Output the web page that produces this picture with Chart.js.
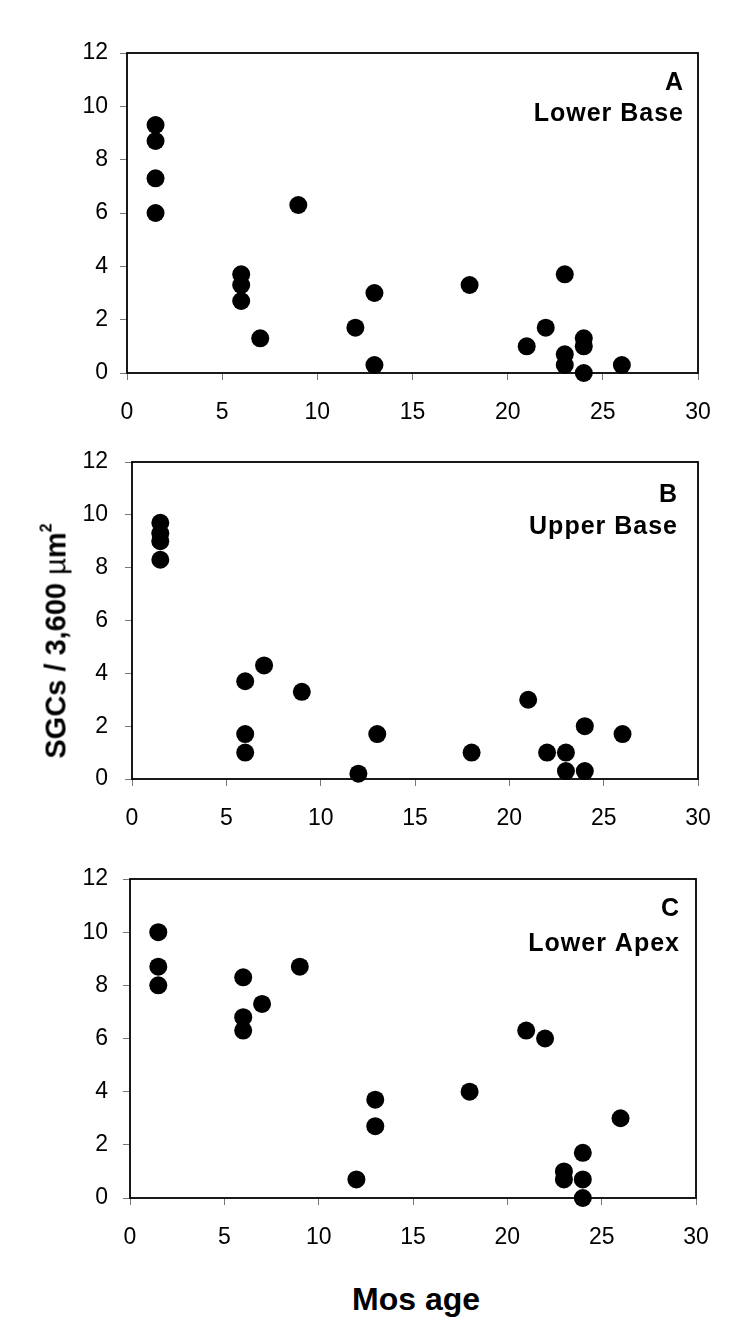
<!DOCTYPE html>
<html>
<head>
<meta charset="utf-8">
<script src="https://cdn.jsdelivr.net/npm/chart.js@4/dist/chart.umd.min.js"></script>
<style>
  body { margin: 0; background: #fff; width: 750px; height: 1337px; position: relative; overflow: hidden;
         font-family: "Liberation Sans", Arial, sans-serif; }
  .panel { position: absolute; left: 0; width: 750px; }
  #yTitle { position: absolute; left: 56px; top: 641px; transform: translate(-50%, -50%) rotate(-90deg);
            white-space: nowrap; font-weight: bold; font-size: 29px; line-height: 33px; color: #000; }
  #yTitle .mu { font-weight: normal; }
  #yTitle sup { font-size: 16px; line-height: 0; vertical-align: 0; position: relative; top: -0.85em; }
  #xTitle { position: absolute; left: 416px; top: 1299px; transform: translate(-50%, -50%);
            white-space: nowrap; font-weight: bold; font-size: 32px; color: #000; }
</style>
</head>
<body>
<div class="panel" style="top:0;height:425px"><canvas id="chartA"></canvas></div>
<div class="panel" style="top:425px;height:415px"><canvas id="chartB"></canvas></div>
<div class="panel" style="top:840px;height:425px"><canvas id="chartC"></canvas></div>
<div id="yTitle">SGCs / 3,600 <span class="mu">&micro;</span>m<sup>2</sup></div>
<div id="xTitle">Mos age</div>
<script>
// months of age and SGC counts per region
var lowerBaseAge = [1.5, 1.5, 1.5, 1.5, 6, 6, 6, 7, 9, 12, 13, 13, 18, 21, 22, 23, 23, 23, 24, 24, 24, 26];
var lowerBaseSGC = [9.3, 8.7, 7.3, 6.0, 3.7, 3.3, 2.7, 1.3, 6.3, 1.7, 3.0, 0.3, 3.3, 1.0, 1.7, 3.7, 0.7, 0.3, 1.3, 1.0, 0.0, 0.3];

var upperBaseAge = [1.5, 1.5, 1.5, 1.5, 6, 6, 6, 7, 9, 12, 13, 18, 21, 22, 23, 23, 24, 24, 26];
var upperBaseSGC = [9.7, 9.3, 9.0, 8.3, 3.7, 1.7, 1.0, 4.3, 3.3, 0.2, 1.7, 1.0, 3.0, 1.0, 1.0, 0.3, 2.0, 0.3, 1.7];

var lowerApexAge = [1.5, 1.5, 1.5, 6, 6, 6, 7, 9, 12, 13, 13, 18, 21, 22, 23, 23, 24, 24, 24, 26];
var lowerApexSGC = [10.0, 8.7, 8.0, 8.3, 6.8, 6.3, 7.3, 8.7, 0.7, 3.7, 2.7, 4.0, 6.3, 6.0, 1.0, 0.7, 1.7, 0.7, 0.0, 3.0];

var xTickValues = [0, 5, 10, 15, 20, 25, 30];
var yTickValues = [0, 2, 4, 6, 8, 10, 12];

var FONT = '"Liberation Sans", Arial, sans-serif';

// frame around plot area + panel letter/region name
var framePlugin = {
    id: 'frame',
    afterDraw: function(chart, args, opts) {
        var a = chart.chartArea, ctx = chart.ctx;
        ctx.save();
        ctx.strokeStyle = '#000';
        ctx.lineWidth = 1.8;
        ctx.strokeRect(a.left, a.top, a.right - a.left, a.bottom - a.top);
        ctx.fillStyle = '#000';
        ctx.font = 'bold 25px ' + FONT;
        ctx.letterSpacing = '1px';
        ctx.textAlign = 'right';
        ctx.textBaseline = 'middle';
        ctx.fillText(opts.letter, a.right - opts.dx, a.top + opts.dy);
        ctx.fillText(opts.label, a.right - opts.dx, a.top + opts.dy + opts.gap);
        ctx.restore();
    }
};

function makePanel(id, ages, values, letter, label, box) {
    var pts = ages.map(function(x, i) { return {x: x, y: values[i]}; });
    var ctx = document.getElementById(id).getContext('2d');
    return new Chart(ctx, {
        type: 'scatter',
        data: {
            datasets: [{
                data: pts,
                backgroundColor: '#000',
                borderWidth: 0,
                pointRadius: 9,
                pointHoverRadius: 9,
                clip: false
            }]
        },
        options: {
            responsive: true,
            maintainAspectRatio: false,
            animation: false,
            events: [],
            layout: { padding: { top: box.top, right: box.right, left: 0, bottom: 0 } },
            plugins: {
                legend: { display: false },
                tooltip: { enabled: false },
                frame: { letter: letter, label: label, dx: box.dx, dy: box.dy, gap: box.gap }
            },
            scales: {
                x: {
                    type: 'linear', min: 0, max: 30,
                    afterBuildTicks: function(s) { s.ticks = xTickValues.map(function(v) { return {value: v}; }); },
                    afterFit: function(s) { s.height = box.xh; },
                    grid: { drawOnChartArea: false, drawTicks: true, tickLength: 7, color: '#777' },
                    border: { display: false },
                    ticks: { color: '#000', padding: 19, maxRotation: 0, font: { family: FONT, size: 23 } }
                },
                y: {
                    type: 'linear', min: 0, max: 12,
                    afterBuildTicks: function(s) { s.ticks = yTickValues.map(function(v) { return {value: v}; }); },
                    afterFit: function(s) { s.width = box.left; },
                    grid: { drawOnChartArea: false, drawTicks: true, tickLength: 7, color: '#777' },
                    border: { display: false },
                    ticks: { color: '#000', padding: box.ypad, font: { family: FONT, size: 23 } }
                }
            }
        },
        plugins: [framePlugin]
    });
}

makePanel('chartA', lowerBaseAge, lowerBaseSGC, 'A', 'Lower Base',
          {left: 127, right: 52, top: 53, xh: 52, ypad: 12, dx: 14, dy: 30, gap: 31});
makePanel('chartB', upperBaseAge, upperBaseSGC, 'B', 'Upper Base',
          {left: 132, right: 52, top: 37, xh: 61, ypad: 17, dx: 20, dy: 33, gap: 32});
makePanel('chartC', lowerApexAge, lowerApexSGC, 'C', 'Lower Apex',
          {left: 130, right: 54, top: 39, xh: 67, ypad: 15, dx: 16, dy: 30, gap: 35});
</script>
</body>
</html>
